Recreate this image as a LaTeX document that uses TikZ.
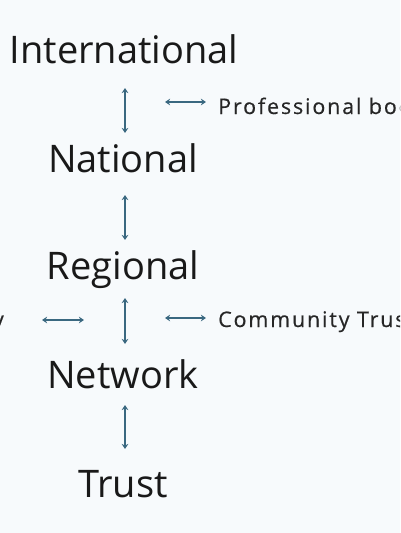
\documentclass[tikz,border=0pt]{standalone}
\usepackage{fontspec}
\setmainfont{Open Sans}
\newfontfamily\smallfam[LetterSpace=8.5,FakeBold=0.4]{Open Sans}
\usetikzlibrary{arrows.meta}
\definecolor{bg}{RGB}{247,250,252}
\definecolor{arr}{RGB}{58,104,128}
\tikzset{
  big/.style={font=\fontsize{38}{40}\selectfont, text=black!90, inner sep=0pt},
  small/.style={font=\smallfam\fontsize{21.5}{23}\selectfont, text=black!85, inner sep=0pt},
  link/.style={draw=arr, line width=1.8pt, {Stealth[length=5pt,width=6.5pt]}-{Stealth[length=5pt,width=6.5pt]}}
}
\begin{document}
\begin{tikzpicture}[x=1pt,y=-1pt]
\path[use as bounding box, fill=bg] (0,0) rectangle (400,533);
\begin{scope}
\clip (0,0) rectangle (400,533);
\node[big, anchor=base] (intl) at (124,63) {International};
\node[big, anchor=base] (nat) at (123,172) {National};
\node[big, anchor=base] (reg) at (123,279) {Regional};
\node[big, anchor=base] (net) at (123,388) {Network};
\node[big, anchor=base] (trust) at (123,497) {Trust};
\node[small, anchor=base west] (prof) at (218,114) {Professional bodies};
\node[small, anchor=base west] (comm) at (218,327) {Community Trusts};
\node[small, anchor=base east] (left) at (4,327) {y};

\coordinate (v1a) at (125,88);  \coordinate (v1b) at (125,133);
\coordinate (v2a) at (125,195); \coordinate (v2b) at (125,240);
\coordinate (v3a) at (125,298); \coordinate (v3b) at (125,344);
\coordinate (v4a) at (125,405); \coordinate (v4b) at (125,449);
\coordinate (h1a) at (165,102); \coordinate (h1b) at (206,102);
\coordinate (h2a) at (165,318); \coordinate (h2b) at (206,318);
\coordinate (h3a) at (42,320);  \coordinate (h3b) at (84,320);
\draw[link] (v1a) -- (v1b);
\draw[link] (v2a) -- (v2b);
\draw[link] (v3a) -- (v3b);
\draw[link] (v4a) -- (v4b);
\draw[link] (h1a) -- (h1b);
\draw[link] (h2a) -- (h2b);
\draw[link] (h3a) -- (h3b);
\end{scope}
\end{tikzpicture}
\end{document}
